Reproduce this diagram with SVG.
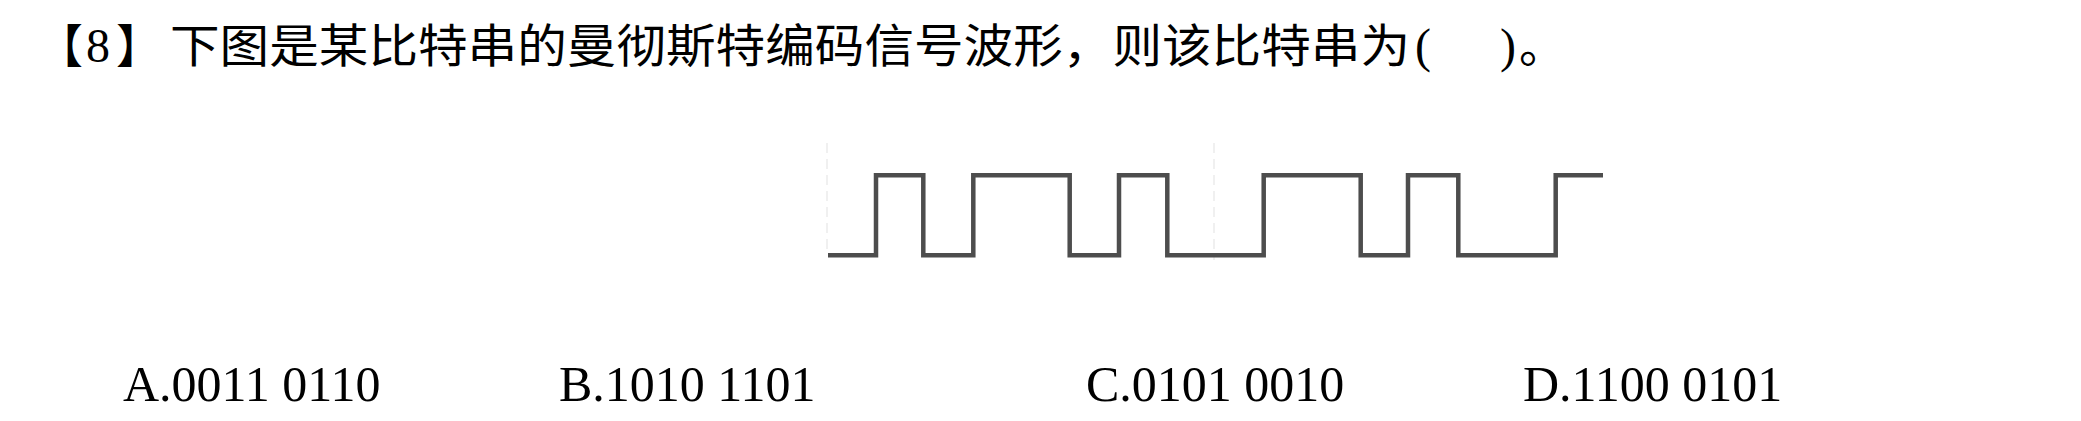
<svg xmlns="http://www.w3.org/2000/svg" width="2081" height="421" viewBox="0 0 2081 421">
<style>
.cjk{font-family:"Noto Sans CJK SC","Noto Sans CJK JP",sans-serif;font-size:46px;fill:#000}
.ser{font-family:"Liberation Serif","Times New Roman",serif;fill:#000}
.opt{font-size:50px}
.wave{fill:none;stroke:#4d4d4d;stroke-width:4.5;stroke-linejoin:miter;stroke-linecap:butt}
.guide{stroke:#ececec;stroke-width:1.5;stroke-dasharray:10 6}
</style>
<rect width="2081" height="421" fill="#fff"/>
<g id="title">
<text class="cjk" x="37" y="62">【</text>
<text class="ser" x="86" y="62" font-size="48">8</text>
<text class="cjk" x="116" y="62">】</text>
<text class="cjk" x="170" y="62" textLength="1240" lengthAdjust="spacingAndGlyphs">下图是某比特串的曼彻斯特编码信号波形，则该比特串为</text>
<text class="ser" x="1415" y="62" font-size="48">(</text>
<text class="ser" x="1500" y="62" font-size="48">)</text>
<text class="cjk" x="1519" y="62">。</text>
</g>
<g id="guides">
<line class="guide" x1="827" y1="143" x2="827" y2="255"/>
<line class="guide" x1="1214" y1="143" x2="1214" y2="260"/>
</g>
<g id="waveform">
<path class="wave" d="M828,255.3 H876 V175.3 H923.3 V255.3 H973.3 V175.3 H1069.7 V255.3 H1119 V175.3 H1167.3 V255.3 H1263.7 V175.3 H1360.7 V255.3 H1408 V175.3 H1458.3 V255.3 H1555.7 V175.3 H1603"/>
</g>
<g id="optA"><text class="ser opt" x="123" y="401">A.0011 0110</text></g>
<g id="optB"><text class="ser opt" x="559" y="401">B.1010 1101</text></g>
<g id="optC"><text class="ser opt" x="1086" y="401">C.0101 0010</text></g>
<g id="optD"><text class="ser opt" x="1523" y="401">D.1100 0101</text></g>
</svg>
